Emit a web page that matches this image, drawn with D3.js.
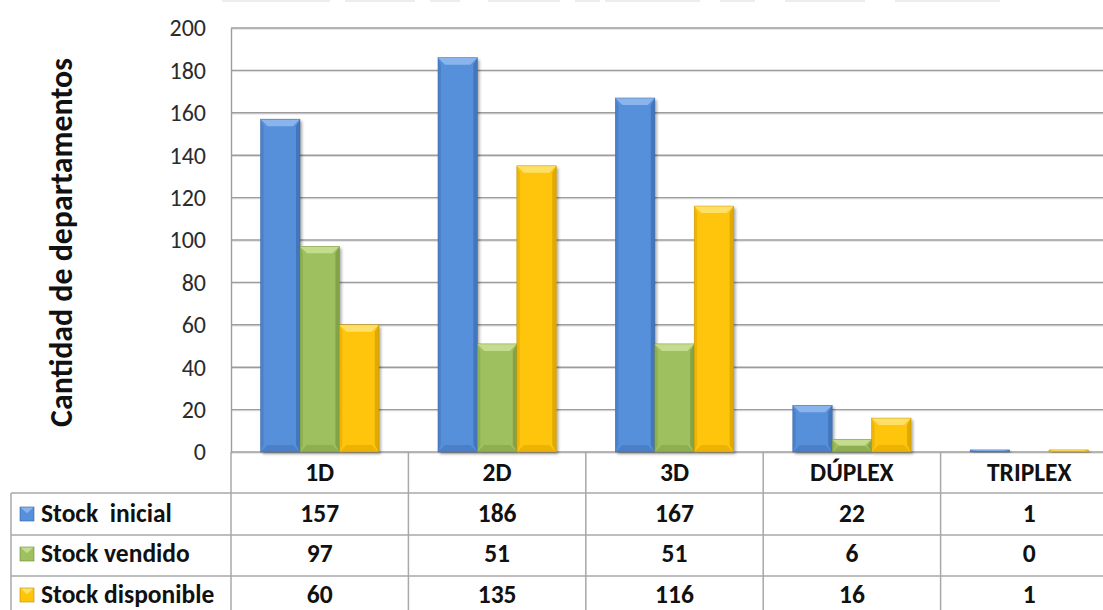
<!DOCTYPE html>
<html>
<head>
<meta charset="utf-8">
<script src="https://cdn.jsdelivr.net/npm/d3@7"></script>
<style>
  html, body { margin: 0; padding: 0; background: #fff; }
  svg { display: block; font-family: Carlito, Lato, "Open Sans", sans-serif; }
</style>
</head>
<body>
<svg id="chart" width="1103" height="610"></svg>
<script>
// Stock de departamentos por tipología
const categories = ["1D", "2D", "3D", "DÚPLEX", "TRIPLEX"];
const seriesNames = ["Stock  inicial", "Stock vendido", "Stock disponible"];
const stockInicial = [157, 186, 167, 22, 1];
const stockVendido = [97, 51, 51, 6, 0];
const stockDisponible = [60, 135, 116, 16, 1];
const yTicks = [0, 20, 40, 60, 80, 100, 120, 140, 160, 180, 200];
const yTitle = "Cantidad de departamentos";

const series = [stockInicial, stockVendido, stockDisponible];
const palette = [
  { base: "#5690db", light: "#8ab4ec", dark: "#3f6fb4", edge: "#345f9e" },
  { base: "#9fc05e", light: "#c4dc8e", dark: "#7d9b44", edge: "#6b8739" },
  { base: "#ffc508", light: "#ffe066", dark: "#d9a200", edge: "#b88a00" }
];

const svg = d3.select("#chart");
const plot = { left: 231, right: 1118, top: 28, bottom: 452 };
const rowY = [452, 493, 535, 576, 618];
const baselines = [481, 522, 562, 603];   // header row, then one per series
const tableLeft = 11;
const tableFont = 25.5;

const x = d3.scaleBand().domain(categories).range([plot.left, plot.right]).paddingInner(0).paddingOuter(0);
const bw = x.bandwidth() / 4.5;      // three bars plus a gap of 1.5 bar widths
const inner = d3.scaleBand().domain(d3.range(3)).range([0.75 * bw, 3.75 * bw]).padding(0);
const y = d3.scaleLinear().domain([0, 200]).range([plot.bottom, plot.top]);

// drop shadow for bars
const defs = svg.append("defs");
const sh = defs.append("filter").attr("id", "shadow").attr("x", "-20%").attr("y", "-10%").attr("width", "150%").attr("height", "130%");
sh.append("feGaussianBlur").attr("in", "SourceAlpha").attr("stdDeviation", 1.6).attr("result", "b");
sh.append("feOffset").attr("in", "b").attr("dx", 1.5).attr("dy", 1.5).attr("result", "o");
sh.append("feComponentTransfer").attr("in", "o").attr("result", "s")
  .append("feFuncA").attr("type", "linear").attr("slope", 0.35);
const mg = sh.append("feMerge");
mg.append("feMergeNode").attr("in", "s");
mg.append("feMergeNode").attr("in", "SourceGraphic");

// faint strip along the top edge
const topStrip = svg.append("g").attr("opacity", 0.45);
[[222, 330], [345, 415], [430, 460], [488, 560], [575, 600], [605, 700], [720, 755], [785, 865], [895, 1000]].forEach(([a, b]) => {
  topStrip.append("rect").attr("x", a).attr("y", 0).attr("width", b - a).attr("height", 2).attr("fill", "#d8d8d8");
});

// gridlines
const grid = svg.append("g");
yTicks.forEach(t => {
  grid.append("line").attr("x1", plot.left).attr("x2", plot.right)
    .attr("y1", y(t) + 1.2).attr("y2", y(t) + 1.2).attr("stroke", "#dcdcdc").attr("stroke-width", 1);
  grid.append("line").attr("x1", plot.left).attr("x2", plot.right)
    .attr("y1", y(t)).attr("y2", y(t)).attr("stroke", "#9c9c9c").attr("stroke-width", 1.4);
});

// y axis
const yAxis = svg.append("g").attr("transform", `translate(${plot.left},0)`)
  .call(d3.axisLeft(y).tickValues(yTicks).tickSize(0).tickPadding(25));
yAxis.attr("font-size", null).attr("font-family", null);
yAxis.select(".domain").attr("stroke", "#9c9c9c").attr("stroke-width", 1.4);
yAxis.selectAll("text")
  .style("font-size", "24px").style("font-family", "Carlito, Lato, sans-serif")
  .attr("fill", "#2b2b2b").attr("dy", "0.33em");

// y title
const yt = svg.append("text")
  .attr("transform", `translate(72,${(58 + 427) / 2}) rotate(-90)`)
  .attr("text-anchor", "middle").attr("font-weight", "bold").attr("font-size", 24)
  .attr("fill", "#111").text(yTitle);
const ytl = yt.node().getComputedTextLength();
yt.attr("font-size", 24 * 369 / ytl);

// bars with bevelled faces
function bevelBar(g, x0, w, y0, h, c) {
  const d = Math.min(7, h / 2), s = Math.min(7, w / 5);
  const x1 = x0 + w, y1 = y0 + h;
  g.append("rect").attr("x", x0).attr("y", y0).attr("width", w).attr("height", h)
    .attr("fill", c.base).attr("filter", "url(#shadow)");
  // left face
  g.append("polygon").attr("points", [[x0, y0], [x0 + 3, y0 + d], [x0 + 3, y1 - d], [x0, y1]].join(" "))
    .attr("fill", c.dark).attr("opacity", 0.45);
  // right face
  g.append("polygon").attr("points", [[x1, y0], [x1 - 4, y0 + d], [x1 - 4, y1 - d], [x1, y1]].join(" "))
    .attr("fill", c.dark).attr("opacity", 0.8);
  // top face
  g.append("polygon").attr("points", [[x0, y0], [x1, y0], [x1 - s, y0 + d], [x0 + s, y0 + d]].join(" "))
    .attr("fill", c.light);
  // bottom face
  g.append("polygon").attr("points", [[x0, y1], [x1, y1], [x1 - s, y1 - d], [x0 + s, y1 - d]].join(" "))
    .attr("fill", c.dark).attr("opacity", 0.5);
  g.append("rect").attr("x", x0).attr("y", y0).attr("width", w).attr("height", h)
    .attr("fill", "none").attr("stroke", c.edge).attr("stroke-width", 0.6).attr("stroke-opacity", 0.7);
}

const bars = svg.append("g");
categories.forEach((cat, i) => {
  series.forEach((vals, k) => {
    const v = vals[i];
    if (v <= 0) return;
    const x0 = x(cat) + inner(k);
    bevelBar(bars, x0, inner.bandwidth(), y(v), y(0) - y(v), palette[k]);
  });
});

// data table
const tbl = svg.append("g");
const lineCol = "#a8a8a8";
// horizontal rules
[493, 535, 576].forEach(yy => {
  tbl.append("line").attr("x1", tableLeft).attr("x2", plot.right).attr("y1", yy).attr("y2", yy)
    .attr("stroke", lineCol).attr("stroke-width", 1.5);
});
// vertical rules
tbl.append("line").attr("x1", tableLeft).attr("x2", tableLeft).attr("y1", 493).attr("y2", 618)
  .attr("stroke", lineCol).attr("stroke-width", 1.5);
categories.forEach(cat => {
  tbl.append("line").attr("x1", x(cat)).attr("x2", x(cat)).attr("y1", 452).attr("y2", 618)
    .attr("stroke", lineCol).attr("stroke-width", 1.5);
});

// category headers
categories.forEach(cat => {
  tbl.append("text").attr("x", x(cat) + x.bandwidth() / 2).attr("y", baselines[0])
    .attr("text-anchor", "middle").attr("font-weight", "bold")
    .attr("font-size", tableFont).attr("fill", "#111").text(cat);
});

// series rows
series.forEach((vals, k) => {
  const by = baselines[k + 1];
  const c = palette[k];
  const mx = 20, ms = 14, my = by - 15;
  tbl.append("rect").attr("x", mx).attr("y", my).attr("width", ms).attr("height", ms).attr("fill", c.base);
  tbl.append("polygon").attr("points", [[mx, my], [mx + ms, my], [mx + ms / 2, my + ms * 0.45]].join(" "))
    .attr("fill", c.light);
  tbl.append("rect").attr("x", mx).attr("y", my).attr("width", ms).attr("height", ms)
    .attr("fill", "none").attr("stroke", c.edge).attr("stroke-width", 0.6);
  tbl.append("text").attr("x", 41).attr("y", by)
    .attr("font-weight", "bold").attr("font-size", tableFont).attr("fill", "#111")
    .attr("xml:space", "preserve").style("white-space", "pre").text(seriesNames[k]);
  vals.forEach((v, i) => {
    tbl.append("text").attr("x", x(categories[i]) + x.bandwidth() / 2).attr("y", by)
      .attr("text-anchor", "middle").attr("font-weight", "bold").attr("font-size", tableFont)
      .attr("fill", "#111").text(v);
  });
});
</script>
</body>
</html>
